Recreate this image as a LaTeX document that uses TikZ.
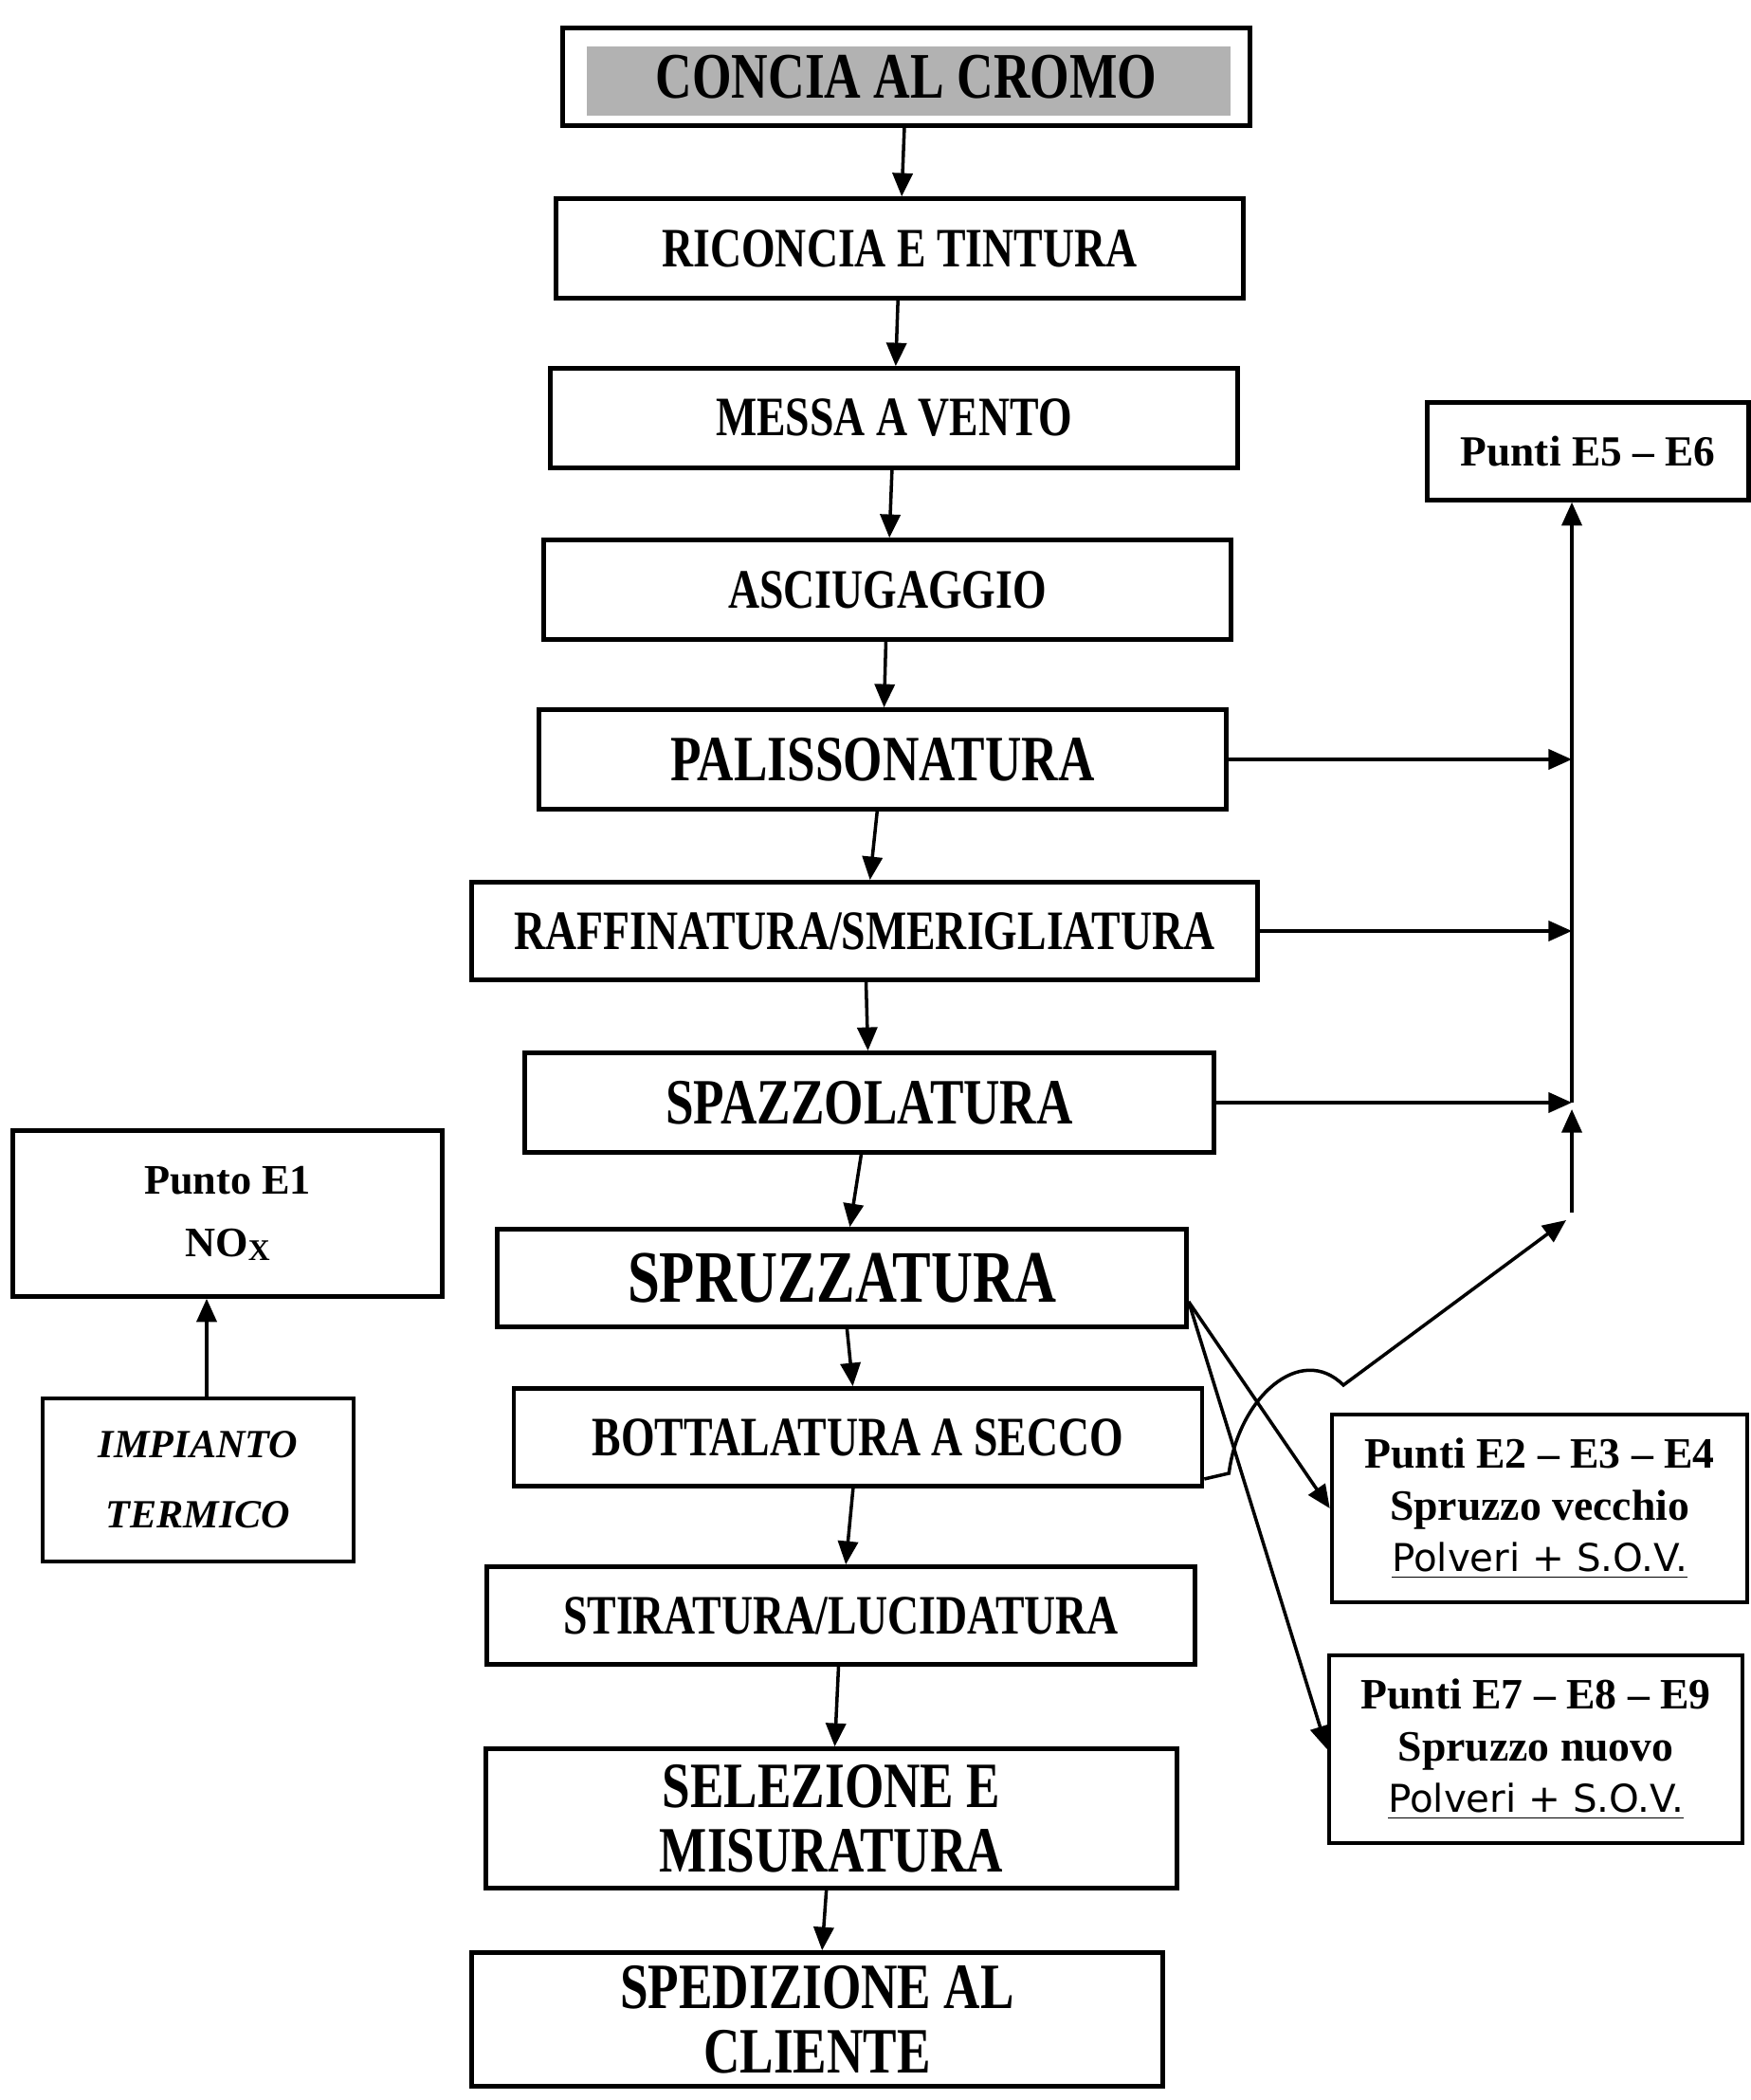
\documentclass[tikz,border=0pt]{standalone}
\usepackage{fontspec}
\setmainfont{Liberation Serif}
\newfontfamily\narrowserif[FakeStretch=0.78]{Liberation Serif}
\newfontfamily\polverifont{DejaVu Sans}
\usetikzlibrary{arrows.meta}
\usetikzlibrary{calc}

\newcommand{\fasefont}[2]{\narrowserif\bfseries\fontsize{#1}{#2}\selectfont}
\newcommand{\polveri}{{\polverifont\mdseries\fontsize{11.5}{15.6}\selectfont\underline{Polveri + S.O.V.}}}

\tikzset{
  fase/.style={draw, line width=1.3pt, inner sep=0pt, minimum width=7.25cm,
    minimum height=1.05cm, align=center, font=\fasefont{16.7}{17}},
  punti/.style={draw, line width=1.3pt, inner sep=0pt, align=center,
    font=\bfseries\fontsize{13}{15.6}\selectfont},
  freccia/.style={line width=1pt, -{Triangle[length=7pt,width=6pt]}},
}

\begin{document}
\begin{tikzpicture}
\useasboundingbox (0,0) rectangle (18.46,22.15);

% fasi di lavorazione
\node[fase, minimum height=1.03cm, font=\fasefont{19.5}{19.5},
  path picture={\fill[black!30] ([shift={(0.25cm,0.1cm)}]path picture bounding box.south west)
    rectangle ([shift={(-0.21cm,-0.2cm)}]path picture bounding box.north east);}]
  (conc) at (9.56,21.34) {CONCIA AL CROMO};
\node[fase] (ric) at (9.49,19.53) {RICONCIA E TINTURA};
\node[fase] (messa) at (9.43,17.74) {MESSA A VENTO};
\node[fase] (asciug) at (9.36,15.93) {ASCIUGAGGIO};
\node[fase, font=\fasefont{19.4}{19.4}] (pal) at (9.31,14.14) {PALISSONATURA};
\node[fase, minimum width=8.29cm, minimum height=1.03cm] (raff) at (9.12,12.33) {RAFFINATURA/SMERIGLIATURA};
\node[fase, minimum width=7.27cm, font=\fasefont{19.4}{19.4}] (spazz) at (9.17,10.52) {SPAZZOLATURA};
\node[fase, minimum width=7.27cm, minimum height=1.03cm, font=\fasefont{22.2}{22.2}] (spruzz) at (8.88,8.67) {SPRUZZATURA};
\node[fase, minimum width=7.26cm, minimum height=1.03cm] (bott) at (9.05,6.99) {BOTTALATURA A SECCO};
\node[fase, minimum width=7.47cm, minimum height=1.03cm] (stir) at (8.87,5.11) {STIRATURA/LUCIDATURA};
\node[fase, minimum width=7.29cm, minimum height=1.47cm, font=\fasefont{19.4}{19.4}] (sel) at (8.77,2.97) {SELEZIONE E\\MISURATURA};
\node[fase, minimum width=7.29cm, minimum height=1.41cm, font=\fasefont{19.4}{19.4}] (sped) at (8.62,0.85) {SPEDIZIONE AL\\CLIENTE};

% punti di emissione
\node[punti, minimum width=3.39cm, minimum height=1.03cm, font=\bfseries\fontsize{12.9}{15}\selectfont] (e56) at (16.75,17.39) {Punti E5 – E6};
\node[punti, minimum width=4.38cm, minimum height=1.98cm] (e234) at (16.24,6.24) {Punti E2 – E3 – E4\\Spruzzo vecchio\\\polveri};
\node[punti, minimum width=4.36cm, minimum height=1.98cm] (e789) at (16.20,3.70) {Punti E7 – E8 – E9\\Spruzzo nuovo\\\polveri};
\node[punti, minimum width=4.53cm, minimum height=1.75cm, font=\bfseries\fontsize{12.6}{18.8}\selectfont] (e1) at (2.40,9.35)
  {Punto E1\\NO\raisebox{-1pt}{\fontsize{9}{9}\selectfont X}};
\node[punti, minimum width=3.28cm, minimum height=1.72cm, font=\bfseries\itshape\fontsize{12}{21}\selectfont] (imp) at (2.09,6.54) {IMPIANTO\\TERMICO};

% flusso principale
\foreach \a/\b in {conc/ric, ric/messa, messa/asciug, asciug/pal, pal/raff, raff/spazz,
  spazz/spruzz, spruzz/bott, bott/stir, stir/sel, sel/sped}
  \draw[freccia] (\a) -- (\b);

% collettore verso E5 - E6
\coordinate (col) at (16.58,0);
\coordinate (jlow) at (16.58,9.36);
\coordinate (jdiag) at (16.52,9.28);
\coordinate (hop) at (14.17,7.54);
\foreach \n in {pal, raff, spazz}
  \draw[freccia] (\n.east) -- (\n.east -| col);
\draw[freccia] (spazz.east -| col) -- (col |- e56.south);
\draw[freccia] (jlow) -- ([yshift=-2pt]spazz.east -| col);
\draw[freccia] ([yshift=-0.44cm]bott.east) -- ++(0.26,0.06)
  .. controls +(0.1,0.8) and +(-0.45,0.45) .. (hop) -- (jdiag);

% spruzzatura
\draw[freccia] ([yshift=-0.25cm]spruzz.east) -- (e234.west);
\draw[freccia] ([yshift=-0.25cm]spruzz.east) -- (e789.west);

% impianto termico
\draw[freccia] ([xshift=0.09cm]imp.north) -- ([xshift=0.09cm]imp.north |- e1.south);
\end{tikzpicture}
\end{document}
